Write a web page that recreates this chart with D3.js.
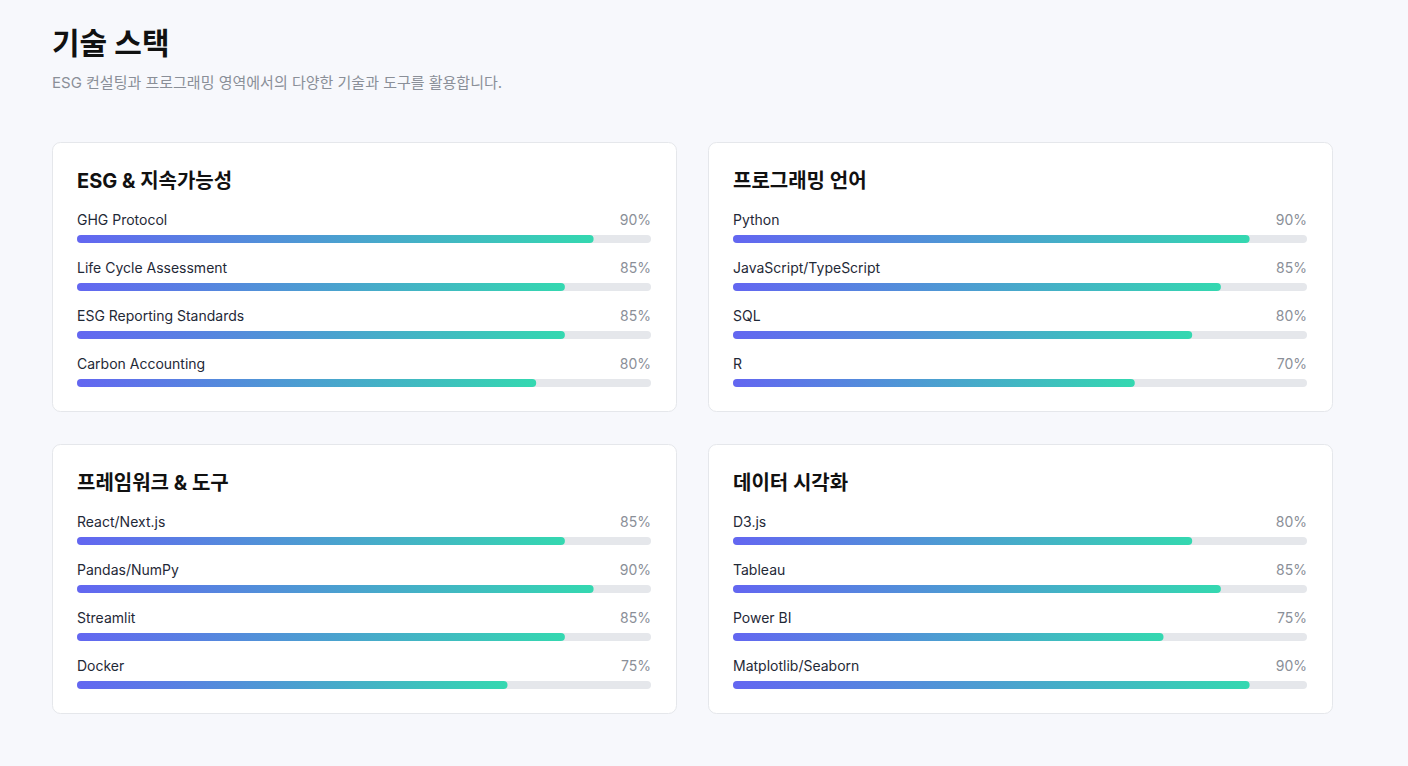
<!DOCTYPE html>
<html lang="ko">
<head>
<meta charset="UTF-8">
<script src="https://d3js.org/d3.v7.min.js"></script>
<style>
  body { margin:0; background:#f7f8fc; font-family: Inter, "Noto Sans CJK KR", sans-serif; }
  text { font-family: Inter, "Noto Sans CJK KR", sans-serif; }
</style>
</head>
<body>
<svg width="1408" height="766"></svg>
<script>
const titles = ["ESG & 지속가능성", "프로그래밍 언어", "프레임워크 & 도구", "데이터 시각화"];
const skills = [
  ["GHG Protocol", "Life Cycle Assessment", "ESG Reporting Standards", "Carbon Accounting"],
  ["Python", "JavaScript/TypeScript", "SQL", "R"],
  ["React/Next.js", "Pandas/NumPy", "Streamlit", "Docker"],
  ["D3.js", "Tableau", "Power BI", "Matplotlib/Seaborn"]
];
const levels = [
  [90, 85, 85, 80],
  [90, 85, 80, 70],
  [85, 90, 85, 75],
  [80, 85, 75, 90]
];

const svg = d3.select("svg");
svg.append("rect").attr("width",1408).attr("height",766).attr("fill","#f7f8fc");
svg.append("text").attr("x",52).attr("y",54).attr("font-size",30).attr("font-weight",700)
  .attr("fill","#111").text("기술 스택");
svg.append("text").attr("x",52).attr("y",88).attr("font-size",15).attr("fill","#8a8f98")
  .text("ESG 컨설팅과 프로그래밍 영역에서의 다양한 기술과 도구를 활용합니다.");

const defs = svg.append("defs");
const cardW = 624, cardH = 269;
const x = d3.scaleLinear().domain([0,100]).range([0,574]);

titles.forEach((t, i) => {
  const cx = 52 + (i % 2) * 656, cy = 142 + Math.floor(i / 2) * 302;
  const g = svg.append("g").attr("transform", `translate(${cx},${cy})`);
  g.append("rect").attr("x",0.5).attr("y",0.5).attr("width",cardW).attr("height",cardH).attr("rx",8)
    .attr("fill","#fff").attr("stroke","#e5e7eb");
  g.append("text").attr("x",25).attr("y",46).attr("font-size",20).attr("font-weight",700)
    .attr("fill","#111").text(t);
  skills[i].forEach((s, j) => {
    const y = 79 + j * 48;
    g.append("text").attr("x",25).attr("y",y+4).attr("font-size",14).attr("fill","#1f2937").text(s);
    g.append("text").attr("x",25+574).attr("y",y+4).attr("text-anchor","end").attr("font-size",14)
      .attr("fill","#8a8f98").text(levels[i][j] + "%");
    g.append("rect").attr("x",25).attr("y",y+14).attr("width",x(100)).attr("height",8).attr("rx",4)
      .attr("fill","#e5e7eb");
    const id = `grad${i}_${j}`;
    const gr = defs.append("linearGradient").attr("id",id);
    gr.append("stop").attr("offset","0%").attr("stop-color","#6366f1");
    gr.append("stop").attr("offset","100%").attr("stop-color","#34d8b0");
    g.append("rect").attr("x",25).attr("y",y+14).attr("width",x(levels[i][j])).attr("height",8).attr("rx",4)
      .attr("fill",`url(#${id})`);
  });
});
</script>
</body>
</html>
